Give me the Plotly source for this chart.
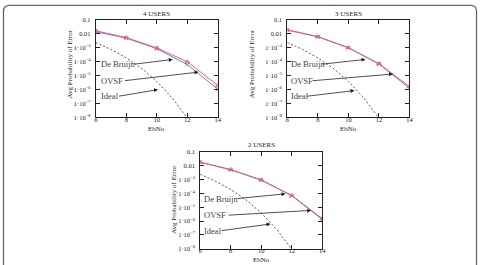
import plotly.graph_objects as go

W, H = 483, 265

# ---------------- data ----------------
ebno = [6, 8, 10, 12, 14]
ovsf_4 = [0.017, 0.0055, 1.0e-3, 1.0e-4, 2.0e-6]
debruijn_4 = [0.0145, 0.005, 8.7e-4, 6.3e-5, 1.07e-6]
ovsf_3 = [0.020, 0.0065, 1.05e-3, 7.4e-5, 1.66e-6]
debruijn_3 = [0.019, 0.0062, 1.0e-3, 6.9e-5, 1.3e-6]
ovsf_2 = [0.0186, 0.0054, 9.5e-4, 7.2e-5, 1.5e-6]
debruijn_2 = [0.0178, 0.0051, 9.1e-4, 6.8e-5, 1.3e-6]
ebno_ideal = [6, 7, 8, 9, 10, 11, 12]
ideal = [2.4e-3, 7.7e-4, 1.9e-4, 3.4e-5, 3.9e-6, 2.6e-7, 9.0e-9]

ytick_vals = [0.1, 0.01, 1e-3, 1e-4, 1e-5, 1e-6, 1e-7, 1e-8]
ytick_text = ["0.1", "0.01"] + ["1·10<sup>−%d</sup>" % k for k in range(3, 9)]
xtick_vals = [6, 8, 10, 12, 14]
titles = ["4 USERS", "3 USERS", "2 USERS"]
labels = ["De Bruijn", "OVSF", "Ideal"]

SERIF = "Liberation Serif"
RED = "#e06666"
BLUE = "#7878e0"

# panel pixel boxes: (left, right, top, bottom)
boxes = [(95, 218.5, 16.5, 116.5), (289, 412.5, 16.5, 116.5), (200.7, 324.3, 152, 251.3)]
series = [(ovsf_4, debruijn_4), (ovsf_3, debruijn_3), (ovsf_2, debruijn_2)]

# annotation geometry per panel: (text x, [(text y, tail x, tail y, head x, head y)] )
arrows = [
    (6.19, [(-4.18, 8.46, -4.18, 11.05, -3.83), (-5.37, 7.81, -5.37, 12.74, -4.74), (-6.49, 7.42, -6.49, 10.08, -6.0)]),
    (6.13, [(-4.18, 8.2, -4.18, 11.12, -3.83), (-5.37, 7.55, -5.37, 12.93, -4.88), (-6.49, 7.17, -6.49, 10.4, -6.07)]),
    (6.15, [(-4.38, 8.35, -4.38, 11.59, -4.03), (-5.58, 7.77, -5.58, 13.27, -5.23), (-6.71, 7.31, -6.71, 10.61, -6.21)]),
]
# title positions (px): title y, ytitle x, ytitle y, xtitle y
title_pos = [(10, 69, 62, 128), (10, 254, 61, 128), (145, 173.5, 201, 263)]

fig = go.Figure()
annotations = []


def ptext(text, px, py, size, angle=0):
    return dict(text=text, x=px / W, y=1 - py / H, xref="paper", yref="paper",
                xanchor="center", yanchor="middle", showarrow=False, textangle=angle,
                font=dict(family=SERIF, size=size, color="#222"))


for i, ((l, r, t, b), (s_red, s_blue)) in enumerate(zip(boxes, series)):
    n = "" if i == 0 else str(i + 1)
    xa, ya = "x" + n, "y" + n
    fig.add_trace(go.Scatter(x=ebno_ideal, y=ideal, mode="lines", xaxis=xa, yaxis=ya,
                             line=dict(color="#444444", width=0.9, dash="2px,2px"), showlegend=False))
    fig.add_trace(go.Scatter(x=ebno, y=s_blue, mode="lines+markers", xaxis=xa, yaxis=ya,
                             line=dict(color=BLUE, width=1),
                             marker=dict(symbol="x-thin-open", size=4, line=dict(color=BLUE, width=1)),
                             showlegend=False))
    fig.add_trace(go.Scatter(x=ebno, y=s_red, mode="lines+markers", xaxis=xa, yaxis=ya,
                             line=dict(color=RED, width=1),
                             marker=dict(symbol="triangle-up-open", size=4, line=dict(color=RED, width=1)),
                             showlegend=False))
    axcommon = dict(showline=True, linecolor="#222", linewidth=1, mirror="ticks", ticks="inside",
                    ticklen=4, tickcolor="#222", showgrid=False, zeroline=False,
                    tickfont=dict(family=SERIF, size=6.5, color="#222"))
    fig.layout["xaxis" + n] = dict(domain=[l / W, r / W], anchor=ya, range=[6, 14],
                                   tickvals=xtick_vals, ticklabelstandoff=-4, **axcommon)
    fig.layout["yaxis" + n] = dict(domain=[1 - b / H, 1 - t / H], anchor=xa, type="log",
                                   range=[-8, -1], tickvals=ytick_vals, ticktext=ytick_text,
                                   ticklabelstandoff=3, **axcommon)
    ty, ytx, yty, xty = title_pos[i]
    cx = (l + r) / 2
    annotations.append(ptext(titles[i], cx, ty, 7))
    annotations.append(ptext("Avg Probability of Error", ytx, yty, 7, -90))
    annotations.append(ptext("EbNo", cx, xty, 7))
    tx, rows = arrows[i]
    for lab, (tyv, ax, ay, hx, hy) in zip(labels, rows):
        annotations.append(dict(text=lab, x=tx, y=tyv, xref=xa, yref=ya, xanchor="left",
                                yanchor="middle", showarrow=False,
                                font=dict(family=SERIF, size=8.5, color="#444")))
        annotations.append(dict(text="", x=hx, y=hy, ax=ax, ay=ay, xref=xa, yref=ya,
                                axref=xa, ayref=ya, showarrow=True, arrowhead=2, arrowsize=1,
                                arrowwidth=0.8, arrowcolor="#222"))

# rounded border around the figure
rx, ry = 6 / W, 6 / H
x0, x1, y1 = 1.5 / W, 480.5 / W, 1 - 1.5 / H
path = (f"M {x0},-0.05 L {x0},{y1 - ry} Q {x0},{y1} {x0 + rx},{y1} "
        f"L {x1 - rx},{y1} Q {x1},{y1} {x1},{y1 - ry} L {x1},-0.05")
fig.add_shape(type="path", path=path, xref="paper", yref="paper",
              line=dict(color="#666666", width=1.3))

fig.update_layout(width=W, height=H, margin=dict(l=0, r=0, t=0, b=0),
                  paper_bgcolor="white", plot_bgcolor="white", annotations=annotations)

fig.write_html("out.html")
